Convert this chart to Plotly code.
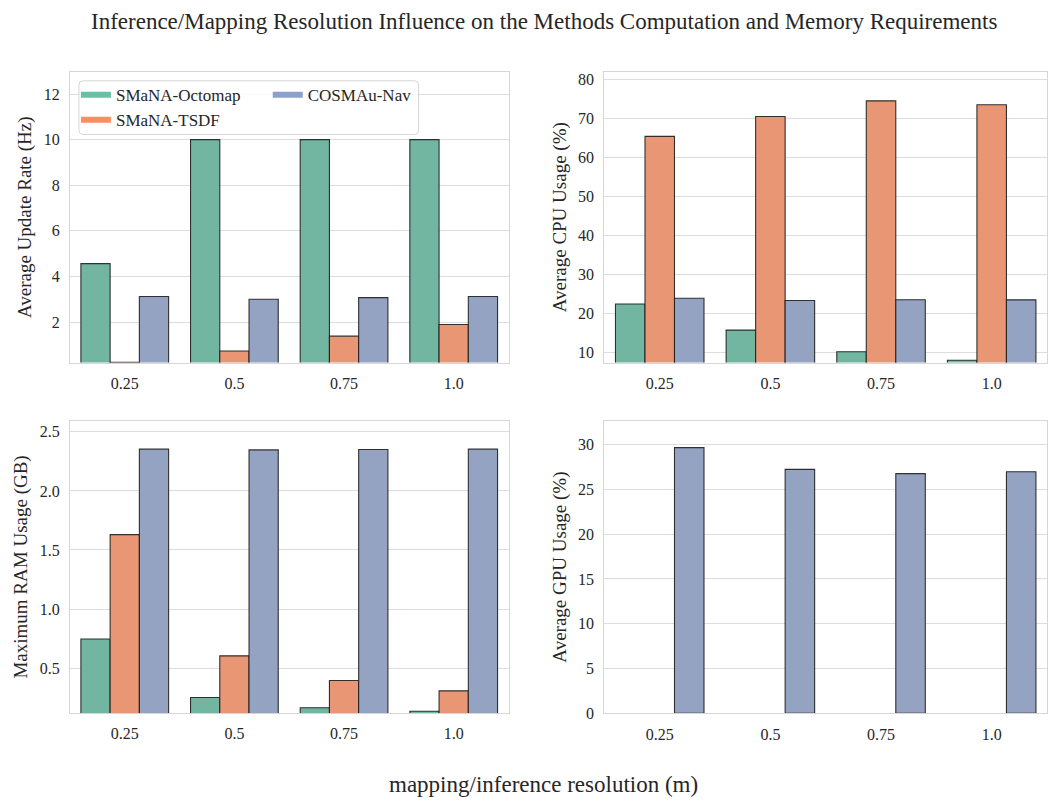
import plotly.graph_objects as go

resolutions = ["0.25", "0.5", "0.75", "1.0"]
methods = ["SMaNA-Octomap", "SMaNA-TSDF", "COSMAu-Nav"]

update_rate = {
    "SMaNA-Octomap": [4.56, 10.0, 10.0, 10.0],
    "SMaNA-TSDF": [0.23, 0.73, 1.38, 1.89],
    "COSMAu-Nav": [3.12, 3.0, 3.07, 3.12],
}
cpu_usage = {
    "SMaNA-Octomap": [22.5, 15.8, 10.25, 8.07],
    "SMaNA-TSDF": [65.5, 70.6, 74.6, 73.6],
    "COSMAu-Nav": [23.95, 23.4, 23.6, 23.55],
}
ram_usage = {
    "SMaNA-Octomap": [0.746, 0.252, 0.165, 0.135],
    "SMaNA-TSDF": [1.63, 0.604, 0.395, 0.308],
    "COSMAu-Nav": [2.353, 2.347, 2.35, 2.353],
}
gpu_usage = {
    "SMaNA-Octomap": [None, None, None, None],
    "SMaNA-TSDF": [None, None, None, None],
    "COSMAu-Nav": [29.67, 27.24, 26.76, 26.98],
}

bar_colors = {"SMaNA-Octomap": "#72b6a1", "SMaNA-TSDF": "#e99675", "COSMAu-Nav": "#95a3c3"}
legend_colors = {"SMaNA-Octomap": "#66c2a5", "SMaNA-TSDF": "#fc8d62", "COSMAu-Nav": "#8da0cb"}

W, H = 1048, 804
FONT = "Liberation Serif"
TXT = "#262626"

def px_x(a, b):
    return [a / W, b / W]

def px_y(top, bottom):
    return [1 - bottom / H, 1 - top / H]

panels = [
    (update_rate, "x", "y", px_x(70, 509), px_y(72.7, 366.7), [0.22, 12.97], "Average Update Rate (Hz)", 2, ""),
    (cpu_usage, "x2", "y2", px_x(605, 1048), px_y(72.7, 366.7), [7.46, 82.03], "Average CPU Usage (%)", 10, ""),
    (ram_usage, "x3", "y3", px_x(70, 509), px_y(425.7, 721), [0.121, 2.592], "Maximum RAM Usage (GB)", 0.5, ".1f"),
    (gpu_usage, "x4", "y4", px_x(605, 1048), px_y(425.7, 721.3), [0, 32.65], "Average GPU Usage (%)", 5, ""),
]

fig = go.Figure()
bw = 0.8 / 3
layout_axes = {}
for data, xa, ya, xd, yd, yr, ytitle, dt, tf in panels:
    for i, m in enumerate(methods):
        fig.add_trace(go.Bar(
            x=resolutions, y=data[m], xaxis=xa, yaxis=ya,
            width=bw, offset=-0.4 + i * bw,
            marker=dict(color=bar_colors[m], line=dict(color="rgba(30,30,30,0.9)", width=1.1)),
            showlegend=False, name=m,
        ))
    xkey = "xaxis" + xa[1:]
    ykey = "yaxis" + ya[1:]
    layout_axes[xkey] = dict(
        domain=xd, anchor=ya, type="category", range=[-0.5, 3.5],
        showgrid=False, showline=True, mirror=True, linecolor="#d6d6d6", linewidth=1.2,
        ticks="outside", ticklen=6, tickcolor="rgba(0,0,0,0)",
        tickfont=dict(family=FONT, size=16, color=TXT), zeroline=False,
    )
    layout_axes[ykey] = dict(
        domain=yd, anchor=xa, range=yr, dtick=dt, tick0=0, tickformat=tf,
        showgrid=True, gridcolor="#dddddd", gridwidth=1,
        showline=True, mirror=True, linecolor="#d6d6d6", linewidth=1.2,
        ticks="outside", ticklen=6, tickcolor="rgba(0,0,0,0)", zeroline=False,
        tickfont=dict(family=FONT, size=16, color=TXT),
        title=dict(text=ytitle, font=dict(family=FONT, size=19, color=TXT), standoff=6),
    )

# legend entries
for m, lg in zip(methods, ["legend", "legend", "legend2"]):
    fig.add_trace(go.Scatter(
        x=[None], y=[None], xaxis="x", yaxis="y", mode="lines", name=m,
        line=dict(color=legend_colors[m], width=6), legend=lg, showlegend=True,
    ))

legend_style = dict(
    bgcolor="rgba(0,0,0,0)", borderwidth=0, orientation="v",
    font=dict(family=FONT, size=17, color=TXT),
    xanchor="left", yanchor="top", tracegroupgap=0,
)

# legend box (rounded)
x0, x1, y0, y1 = 79 / W, 419 / W, 1 - 136 / H, 1 - 81.7 / H
rx, ry = 4 / W, 4 / H
path = (f"M {x0+rx},{y0} L {x1-rx},{y0} Q {x1},{y0} {x1},{y0+ry} L {x1},{y1-ry} Q {x1},{y1} {x1-rx},{y1} "
        f"L {x0+rx},{y1} Q {x0},{y1} {x0},{y1-ry} L {x0},{y0+ry} Q {x0},{y0} {x0+rx},{y0} Z")

fig.update_layout(
    width=W, height=H,
    margin=dict(l=0, r=0, t=0, b=0),
    paper_bgcolor="white", plot_bgcolor="white",
    barmode="overlay",
    font=dict(family=FONT, color=TXT),
    legend=dict(x=76 / W, y=1 - 78 / H, **legend_style),
    legend2=dict(x=268 / W, y=1 - 78 / H, **legend_style),
    shapes=[dict(type="path", path=path, xref="paper", yref="paper",
                 fillcolor="rgba(255,255,255,0.85)", line=dict(color="#d6d6d6", width=1), layer="above")],
    annotations=[
        dict(text="Inference/Mapping Resolution Influence on the Methods Computation and Memory Requirements",
             x=545 / W, y=1 - 22 / H, xref="paper", yref="paper", showarrow=False,
             xanchor="center", yanchor="middle", font=dict(family=FONT, size=23, color=TXT)),
        dict(text="mapping/inference resolution (m)",
             x=544 / W, y=1 - 793 / H, xref="paper", yref="paper", showarrow=False,
             xanchor="center", yanchor="middle", font=dict(family=FONT, size=23, color=TXT)),
    ],
    **layout_axes,
)

post = (
    "var s=document.createElement('style');"
    "s.textContent='html,body{margin:0;padding:0;overflow:hidden;width:1048px;height:804px;}';"
    "document.head.appendChild(s);"
)
fig.write_html("out.html", post_script=post, config={"displayModeBar": False})
